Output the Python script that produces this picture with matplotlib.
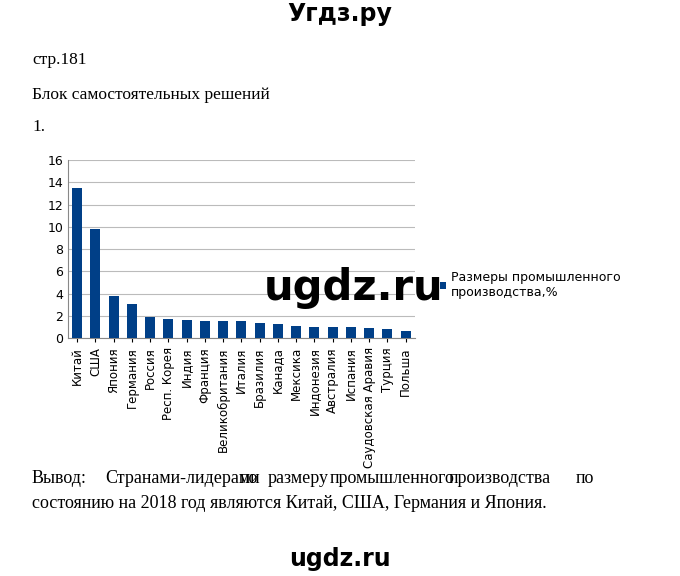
import matplotlib
matplotlib.use("Agg")
import matplotlib.pyplot as plt

countries = ["Китай", "США", "Япония", "Германия", "Россия", "Респ. Корея", "Индия", "Франция",
             "Великобритания", "Италия", "Бразилия", "Канада", "Мексика", "Индонезия", "Австралия",
             "Испания", "Саудовская Аравия", "Турция", "Польша"]
values = [13.5, 9.8, 3.8, 3.1, 1.9, 1.7, 1.6, 1.5, 1.5, 1.5, 1.4, 1.3, 1.1, 1.0, 1.0, 1.0, 0.9, 0.8, 0.6]
yticks = [0, 2, 4, 6, 8, 10, 12, 14, 16]

fig = plt.figure(figsize=(6.8, 5.76), dpi=100)
fig.patch.set_facecolor("white")
ser = "Liberation Serif"
fig.text(0.5, 0.975, "Угдз.ру", ha="center", va="center", fontsize=17, fontweight="bold", family="DejaVu Sans")
fig.text(0.047, 0.895, "стр.181", fontsize=12.5, family=ser, va="center")
fig.text(0.047, 0.835, "Блок самостоятельных решений", fontsize=12.5, family=ser, va="center")
fig.text(0.047, 0.78, "1.", fontsize=12.5, family=ser, va="center")
line1 = ["Вывод:", "Странами-лидерами", "по", "размеру", "промышленного", "производства", "по"]
fig.text(0.047, 0.17, "    ".join(line1[:1]) , fontsize=13, family=ser, va="center")
# justified first line
xs = [0.047, 0.155, 0.352, 0.393, 0.485, 0.66, 0.846]
for w, xx in zip(line1, xs):
    fig.text(xx, 0.17, w, fontsize=13, family=ser, va="center") if w != "Вывод:" else None
fig.text(0.047, 0.125, "состоянию на 2018 год являются Китай, США, Германия и Япония.",
         fontsize=13, family=ser, va="center")
fig.text(0.5, 0.03, "ugdz.ru", ha="center", va="center", fontsize=17, fontweight="bold")

ax = fig.add_axes([0.1, 0.413, 0.51, 0.309])
x = range(len(countries))
ax.bar(x, values, width=0.55, color="#003F87", label="Размеры промышленного\nпроизводства,%", zorder=3)
ax.set_ylim(0, 16)
ax.set_yticks(yticks)
ax.set_xlim(-0.5, len(countries) - 0.5)
ax.set_xticks(list(x))
ax.set_xticklabels(countries, rotation=90, fontsize=8.5)
ax.tick_params(axis="y", labelsize=9, length=0)
ax.tick_params(axis="x", length=3)
ax.yaxis.grid(True, color="#BBBBBB", linewidth=0.8, zorder=0)
for s in ["top", "right"]:
    ax.spines[s].set_visible(False)
ax.spines["left"].set_color("#888888")
ax.spines["bottom"].set_color("#888888")
ax.legend(loc="center left", bbox_to_anchor=(1.04, 0.3), frameon=False, fontsize=9,
          handlelength=0.5, handleheight=0.5, handletextpad=0.4)
fig.text(0.52, 0.5, "ugdz.ru", ha="center", va="center", fontsize=30, fontweight="bold")
fig.savefig("out.png", dpi=100)
